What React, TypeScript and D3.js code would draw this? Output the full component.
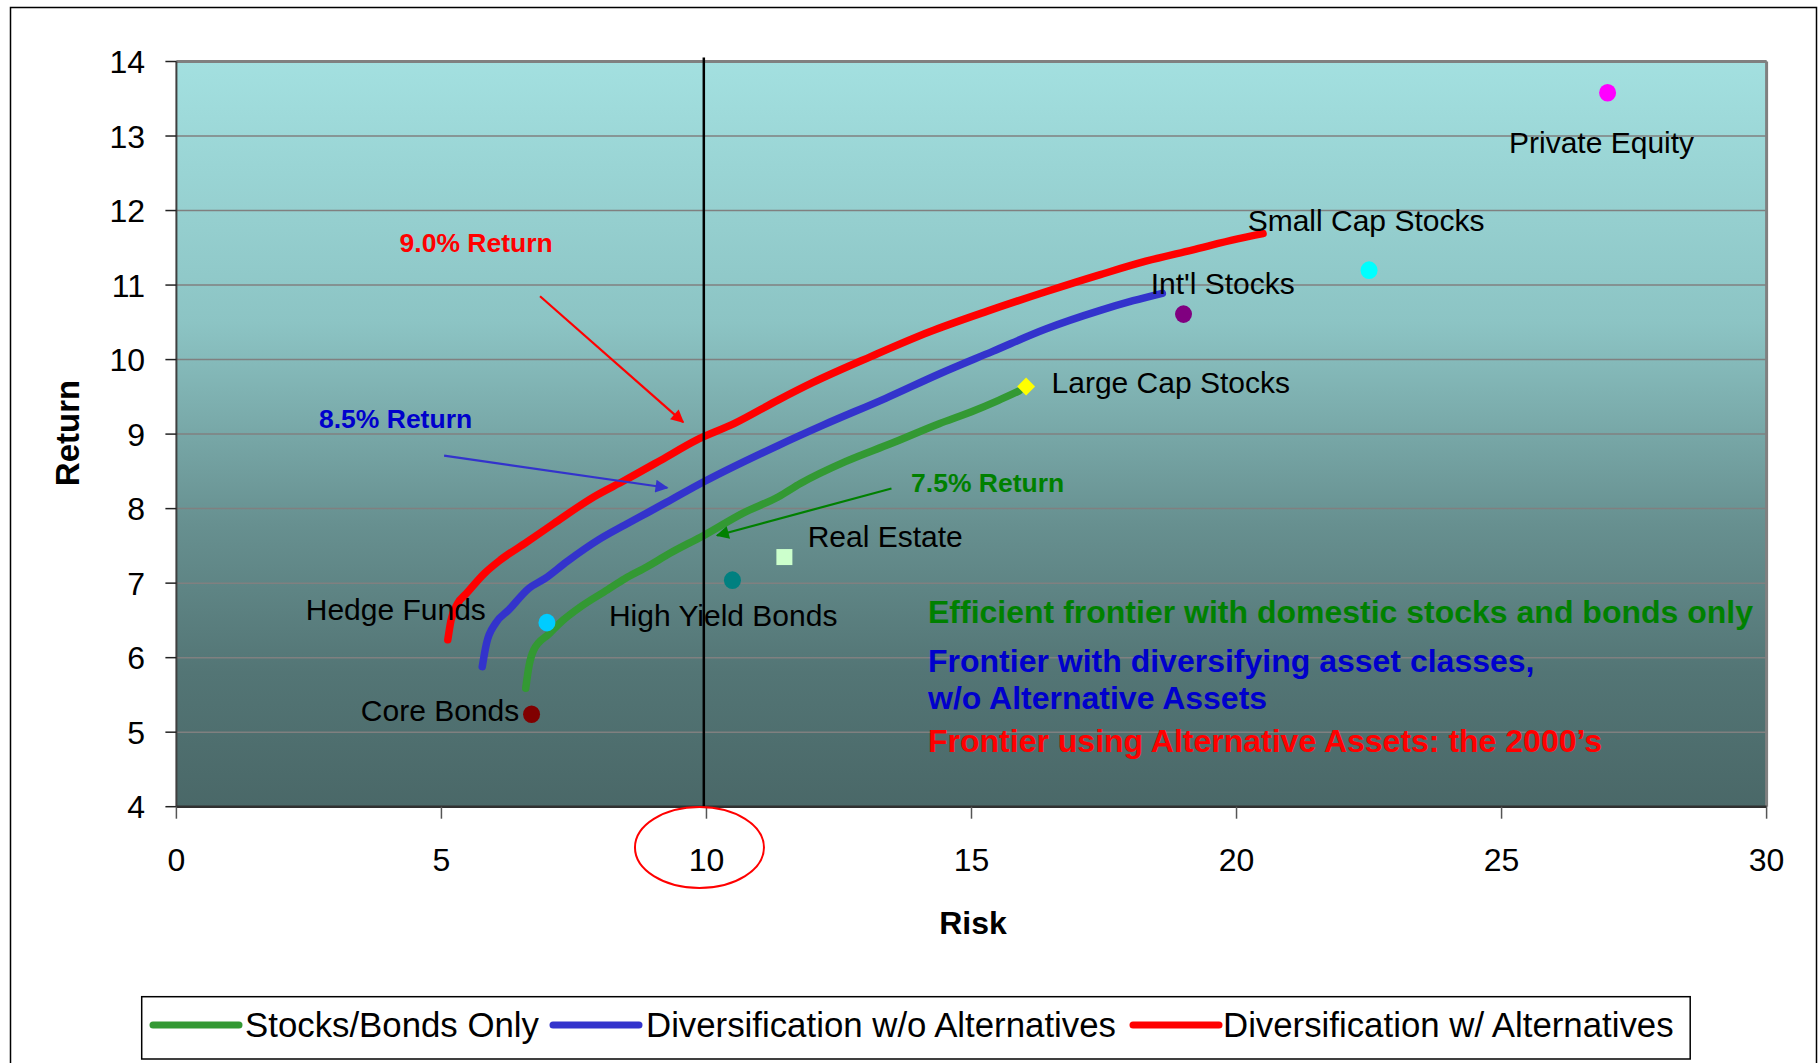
import React from "react";
import * as d3 from "d3";

type P = [number, number];

const redFrontier: P[] = [
  [5.12, 6.24], [5.18, 6.5], [5.3, 6.72], [5.47, 6.86], [5.81, 7.13], [6.11, 7.31],
  [6.61, 7.55], [7.12, 7.8], [7.88, 8.16], [8.46, 8.38], [9.14, 8.65], [9.81, 8.92],
  [10.52, 9.14], [11.36, 9.46], [12.0, 9.69], [13.1, 10.04], [14.2, 10.37], [15.3, 10.65],
  [16.4, 10.91], [17.43, 11.14], [18.29, 11.32], [19.16, 11.47], [20.02, 11.62], [20.5, 11.69],
];
const blueFrontier: P[] = [
  [5.77, 5.88], [5.85, 6.19], [6.02, 6.46], [6.27, 6.64], [6.65, 6.93], [6.95, 7.06],
  [7.37, 7.29], [7.96, 7.58], [8.46, 7.78], [8.9, 7.95], [9.31, 8.11], [9.95, 8.36],
  [11.36, 8.85], [12.2, 9.12], [13.38, 9.48], [14.4, 9.81], [15.4, 10.11], [16.4, 10.41],
  [17.43, 10.66], [18.05, 10.79], [18.6, 10.89],
];
const greenFrontier: P[] = [
  [6.59, 5.59], [6.65, 5.88], [6.74, 6.1], [7.03, 6.32], [7.29, 6.5], [7.62, 6.68],
  [8.13, 6.91], [8.46, 7.06], [8.88, 7.22], [9.31, 7.4], [9.95, 7.64], [10.69, 7.94],
  [11.36, 8.16], [11.78, 8.34], [12.62, 8.63], [13.47, 8.87], [14.39, 9.14], [15.0, 9.3],
  [15.5, 9.45], [15.9, 9.58],
];

const assetNames = ["Private Equity", "Small Cap Stocks", "Int'l Stocks", "Large Cap Stocks", "Real Estate", "High Yield Bonds", "Hedge Funds", "Core Bonds"];
const assetRisk = [27.0, 22.5, 19.0, 16.03, 11.47, 10.49, 6.99, 6.7];
const assetReturn = [13.58, 11.2, 10.61, 9.64, 7.35, 7.04, 6.47, 5.24];
const assetColors = ["#ff00ff", "#00ffff", "#800080", "#ffff00", "#ccffcc", "#008080", "#00ccff", "#800000"];
const assetShapes = ["circle", "circle", "circle", "diamond", "square", "circle", "circle", "circle"];
// label anchor (start x, baseline) in data units
const labelRisk = [25.14, 20.21, 18.38, 16.51, 11.91, 8.16, 2.44, 3.48];
const labelReturn = [12.77, 11.725, 10.88, 9.55, 7.49, 6.42, 6.5, 5.15];

const xTicks = [0, 5, 10, 15, 20, 25, 30];
const yTicks = [4, 5, 6, 7, 8, 9, 10, 11, 12, 13, 14];

const seriesNames = ["Stocks/Bonds Only", "Diversification w/o Alternatives", "Diversification w/ Alternatives"];
const seriesColors = ["#339933", "#3333cc", "#ff0000"];

const noteTexts = ["9.0% Return", "8.5% Return", "7.5% Return"];
const noteColors = ["#ff0000", "#0000cc", "#008000"];
const noteRisk = [4.21, 2.69, 13.86];
const noteReturn = [11.45, 9.08, 8.22];
const arrowFrom: P[] = [[6.86, 10.85], [5.05, 8.71], [13.49, 8.27]];
const arrowTo: P[] = [[9.56, 9.16], [9.26, 8.28], [10.2, 7.64]];
const arrowColors = ["#ff0000", "#3333cc", "#008000"];

const boxLines = [
  "Efficient frontier with domestic stocks and bonds only",
  "Frontier with diversifying asset classes,",
  "w/o Alternative Assets",
  "Frontier using Alternative Assets: the 2000\u2019s",
];
const boxColors = ["#008000", "#0000cc", "#0000cc", "#ff0000"];
const boxReturn = [6.46, 5.81, 5.31, 4.74];

const FONT = "'Liberation Sans', Arial, sans-serif";

export default function App() {
  const x = d3.scaleLinear().domain([0, 30]).range([176.4, 1766.6]);
  const y = d3.scaleLinear().domain([4, 14]).range([806.7, 61.5]);
  const line = d3.line<P>().x((d) => x(d[0])).y((d) => y(d[1])).curve(d3.curveMonotoneX);
  const frontiers = [greenFrontier, blueFrontier, redFrontier];
  const x0 = x(0), x1 = x(30), yTop = y(14), yBot = y(4);

  const legendItems = [
    { lx: 153, tx: 245 },
    { lx: 553, tx: 646 },
    { lx: 1133, tx: 1223 },
  ];

  return (
    <svg width={1820} height={1063} style={{ position: "absolute", left: 0, top: 0 }} fontFamily={FONT}>
      <defs>
        <linearGradient id="bg" x1="0" y1="0" x2="0" y2="1">
          <stop offset="0" stopColor="#a3e0e0" />
          <stop offset="0.35" stopColor="#8cc4c4" />
          <stop offset="0.62" stopColor="#679090" />
          <stop offset="0.82" stopColor="#537575" />
          <stop offset="1" stopColor="#4a6868" />
        </linearGradient>
        {arrowColors.map((c, i) => (
          <marker key={i} id={`ah${i}`} viewBox="0 0 10 10" refX="9" refY="5" markerWidth="17" markerHeight="13" markerUnits="userSpaceOnUse" orient="auto">
            <path d="M0,0 L10,5 L0,10 z" fill={c} />
          </marker>
        ))}
      </defs>
      <rect x={10.5} y={7.5} width={1806} height={1060} fill="#fff" stroke="#000" strokeWidth={1.5} />

      {/* plot background */}
      <rect x={x0} y={yTop} width={x1 - x0} height={yBot - yTop} fill="url(#bg)" />
      {yTicks.map((t) => (
        <line key={t} x1={x0} x2={x1} y1={y(t)} y2={y(t)} stroke="#808080" strokeWidth={1.5} />
      ))}
      <line x1={x0} x2={x1} y1={yTop} y2={yTop} stroke="#808080" strokeWidth={3} />
      <line x1={x1} x2={x1} y1={yTop} y2={yBot} stroke="#808080" strokeWidth={3} />
      <line x1={x0} x2={x0} y1={yTop} y2={yBot} stroke="#404040" strokeWidth={2} />
      <line x1={x0} x2={x1} y1={yBot} y2={yBot} stroke="#303030" strokeWidth={2.5} />

      {/* ticks */}
      {yTicks.map((t) => (
        <g key={t}>
          <line x1={x0 - 11} x2={x0} y1={y(t)} y2={y(t)} stroke="#222" strokeWidth={1.5} />
          <text x={145} y={y(t) + 11.5} textAnchor="end" fontSize={32} fill="#000">{t}</text>
        </g>
      ))}
      {xTicks.map((t) => (
        <g key={t}>
          <line x1={x(t)} x2={x(t)} y1={yBot} y2={yBot + 12} stroke="#555" strokeWidth={1.5} />
          <text x={x(t)} y={871} textAnchor="middle" fontSize={32} fill="#000">{t}</text>
        </g>
      ))}
      <text x={973} y={934} textAnchor="middle" fontSize={32} fontWeight="bold">Risk</text>
      <text transform="translate(79,433) rotate(-90)" textAnchor="middle" fontSize={33} fontWeight="bold">Return</text>

      {/* frontiers */}
      {frontiers.map((f, i) => (
        <path key={i} d={line(f) || ""} fill="none" stroke={seriesColors[i]} strokeWidth={7.5} strokeLinecap="round" strokeLinejoin="round" />
      ))}

      {/* asset points */}
      {assetNames.map((n, i) => {
        const cx = x(assetRisk[i]);
        const cy = y(assetReturn[i]);
        const c = assetColors[i];
        if (assetShapes[i] === "diamond")
          return <path key={n} d={`M${cx},${cy - 9} L${cx + 9},${cy} L${cx},${cy + 9} L${cx - 9},${cy} Z`} fill={c} />;
        if (assetShapes[i] === "square")
          return <rect key={n} x={cx - 8} y={cy - 8} width={16} height={16} fill={c} />;
        return <ellipse key={n} cx={cx} cy={cy} rx={8.5} ry={8.8} fill={c} />;
      })}
      {assetNames.map((n, i) => (
        <text key={n} x={x(labelRisk[i])} y={y(labelReturn[i])} fontSize={30} fill="#000">{n}</text>
      ))}

      {/* annotations */}
      {noteTexts.map((t, i) => (
        <text key={t} x={x(noteRisk[i])} y={y(noteReturn[i])} fontSize={26.5} fontWeight="bold" fill={noteColors[i]}>{t}</text>
      ))}
      {arrowFrom.map((a, i) => (
        <line key={i} x1={x(a[0])} y1={y(a[1])} x2={x(arrowTo[i][0])} y2={y(arrowTo[i][1])} stroke={arrowColors[i]} strokeWidth={2.2} markerEnd={`url(#ah${i})`} />
      ))}
      {boxLines.map((t, i) => (
        <text key={i} x={928} y={y(boxReturn[i])} fontSize={32} fontWeight="bold" fill={boxColors[i]}>{t}</text>
      ))}

      {/* 10% risk marker line */}
      <line x1={x(9.95)} x2={x(9.95)} y1={yTop - 4} y2={yBot} stroke="#000" strokeWidth={2.5} />
      <ellipse cx={x(10) - 7} cy={847.5} rx={64.5} ry={40.5} fill="none" stroke="#ff0000" strokeWidth={2} />

      {/* legend */}
      <rect x={141.7} y={996.7} width={1548.5} height={62.3} fill="#fff" stroke="#000" strokeWidth={1.5} />
      {seriesNames.map((n, i) => (
        <g key={n}>
          <line x1={legendItems[i].lx} x2={legendItems[i].lx + 86} y1={1025} y2={1025} stroke={seriesColors[i]} strokeWidth={7} strokeLinecap="round" />
          <text x={legendItems[i].tx} y={1037} fontSize={34.8} fill="#000">{n}</text>
        </g>
      ))}
    </svg>
  );
}
